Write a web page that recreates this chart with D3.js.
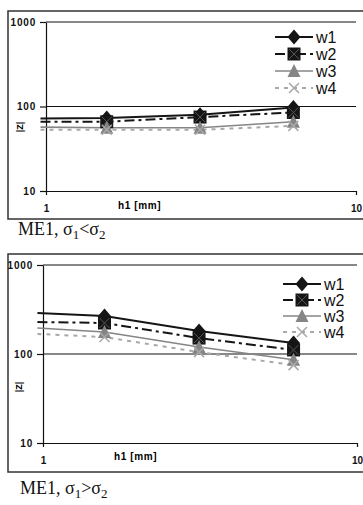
<!DOCTYPE html>
<html>
<head>
<meta charset="utf-8">
<script src="https://cdn.jsdelivr.net/npm/d3@7"></script>
<style>
  body { margin: 0; background: #fff; }
  svg { display: block; }
  .tick text { font-family: Arial, "Liberation Sans", sans-serif; font-weight: bold; font-size: 10px; fill: #111; }
</style>
</head>
<body>
<script>
// impedance |Z| vs h1, two cases, log-log axes

var width = 363;
var height = 505;

// h1 values [mm]; first point has no marker (line runs in from the left edge)
var hValues = [0.96, 1.57, 3.14, 6.28];
var seriesNames = ["w1", "w2", "w3", "w4"];
var yTicks = [10, 100, 1000];
var xTicks = [1, 10];

// case sigma1 < sigma2
var w1Less = [72, 73, 80, 97];
var w2Less = [66, 66, 75, 85];
var w3Less = [57, 56, 56, 66];
var w4Less = [53, 53, 53, 59];

// case sigma1 > sigma2
var w1More = [289, 267, 181, 133];
var w2More = [229, 223, 151, 111];
var w3More = [196, 177, 120, 86];
var w4More = [168, 155, 105, 75];

var styles = [
  {color: "#151515", width: 2, dash: null, marker: "diamond"},
  {color: "#151515", width: 2, dash: "10,4,3,4", marker: "square"},
  {color: "#858585", width: 1.6, dash: null, marker: "triangle"},
  {color: "#a8a8a8", width: 2, dash: "4,5", marker: "x"}
];

var panels = [
  {
    data: [w1Less, w2Less, w3Less, w4Less],
    frame: [8, 11, 362, 208],
    x: [46, 356], y: [191, 22],
    zLabel: [20, 127],
    hLabel: [118, 205],
    legend: [275, 37, 17],
    title: [18, 235], sign: "<"
  },
  {
    data: [w1More, w2More, w3More, w4More],
    frame: [8, 254, 362, 218],
    x: [43, 357], y: [443, 265],
    zLabel: [19, 387],
    hLabel: [114, 456],
    legend: [283, 284, 16],
    title: [20, 494], sign: ">"
  }
];

function markerPath(type) {
  if (type === "diamond") return "M0,-7.5L6.5,0L0,7.5L-6.5,0Z";
  if (type === "square") return "M-6.5,-6.5H6.5V6.5H-6.5Z";
  if (type === "triangle") return "M0,-7L6.5,6L-6.5,6Z";
  return "M-5,-5L5,5M5,-5L-5,5";
}

function drawMarker(g, type, color, cx, cy) {
  var m = g.append("g").attr("transform", "translate(" + cx + "," + cy + ")");
  if (type === "x") {
    m.append("path").attr("d", markerPath(type))
      .attr("stroke", color).attr("stroke-width", 1.5).attr("fill", "none");
  } else {
    m.append("path").attr("d", markerPath(type)).attr("fill", color);
    if (type === "square") {
      m.append("path").attr("d", "M-5,-5L5,5M5,-5L-5,5")
        .attr("stroke", "#555").attr("stroke-width", 1);
    }
  }
}

var svg = d3.select("body")
  .append("svg")
  .attr("width", width)
  .attr("height", height);

panels.forEach(function(p) {
  var g = svg.append("g");

  var xScale = d3.scaleLog().domain([1, 10]).range(p.x);
  var yScale = d3.scaleLog().domain([10, 1000]).range(p.y);

  // outer frame
  g.append("rect")
    .attr("x", p.frame[0]).attr("y", p.frame[1])
    .attr("width", p.frame[2]).attr("height", p.frame[3])
    .attr("fill", "none").attr("stroke", "#333").attr("stroke-width", 1.5);

  // gridlines at 100 and 1000
  g.selectAll(".grid")
    .data([100, 1000])
    .enter()
    .append("line")
    .attr("x1", p.x[0]).attr("x2", p.x[1])
    .attr("y1", function(d) { return yScale(d); })
    .attr("y2", function(d) { return yScale(d); })
    .attr("stroke", "#111").attr("stroke-width", 1);

  var yAxis = d3.axisLeft(yScale)
    .tickValues(yTicks)
    .tickFormat(d3.format("d"))
    .tickSize(6)
    .tickSizeOuter(0)
    .tickPadding(4);

  var xAxis = d3.axisBottom(xScale)
    .tickValues(xTicks)
    .tickFormat(d3.format("d"))
    .tickSize(4)
    .tickSizeOuter(0)
    .tickPadding(10);

  g.append("g")
    .attr("transform", "translate(" + p.x[0] + ",0)")
    .call(yAxis)
    .call(function(a) {
      a.selectAll("line, path").attr("stroke", "#111").attr("stroke-width", 1.2);
      a.selectAll("text").attr("letter-spacing", "0.8px");
    });

  g.append("g")
    .attr("transform", "translate(0," + p.y[0] + ")")
    .call(xAxis)
    .call(function(a) {
      a.selectAll("line, path").attr("stroke", "#111").attr("stroke-width", 1.2);
    });

  // axis titles
  g.append("text")
    .attr("transform", "translate(" + p.zLabel[0] + "," + p.zLabel[1] + ") rotate(-90)")
    .attr("text-anchor", "middle")
    .attr("dy", "0.35em")
    .style("font", "bold 9px Arial, 'Liberation Sans', sans-serif")
    .text("|Z|");

  g.append("text")
    .attr("x", p.hLabel[0]).attr("y", p.hLabel[1])
    .attr("dy", "0.35em")
    .attr("letter-spacing", "0.6px")
    .style("font", "bold 10px Arial, 'Liberation Sans', sans-serif")
    .text("h1 [mm]");

  // series lines
  var line = d3.line()
    .x(function(d, i) { return xScale(hValues[i]); })
    .y(function(d) { return yScale(d); });

  p.data.forEach(function(vals, k) {
    var s = styles[k];
    g.append("path")
      .attr("d", line(vals))
      .attr("fill", "none")
      .attr("stroke", s.color)
      .attr("stroke-width", s.width)
      .attr("stroke-dasharray", s.dash);
  });

  // markers (skip the first, unmarked point)
  p.data.forEach(function(vals, k) {
    var s = styles[k];
    vals.forEach(function(v, i) {
      if (i === 0) return;
      drawMarker(g, s.marker, s.color, xScale(hValues[i]), yScale(v));
    });
  });

  // legend
  seriesNames.forEach(function(name, k) {
    var s = styles[k];
    var ly = p.legend[1] + k * p.legend[2];
    var lx = p.legend[0];
    g.append("line")
      .attr("x1", lx).attr("x2", lx + 38)
      .attr("y1", ly).attr("y2", ly)
      .attr("stroke", s.color)
      .attr("stroke-width", s.width)
      .attr("stroke-dasharray", s.dash);
    drawMarker(g, s.marker, s.color, lx + 19, ly);
    g.append("text")
      .attr("x", lx + 41).attr("y", ly)
      .attr("dy", "0.38em")
      .style("font", "16px Arial, 'Liberation Sans', sans-serif")
      .attr("fill", "#111")
      .text(name);
  });

  // caption under the chart
  var t = g.append("text")
    .attr("x", p.title[0]).attr("y", p.title[1])
    .style("font", "18px 'Liberation Serif', 'Times New Roman', serif")
    .attr("fill", "#111");
  t.append("tspan").text("ME1, σ");
  t.append("tspan").attr("dy", 4).style("font-size", "13px").text("1");
  t.append("tspan").attr("dy", -4).text(p.sign + "σ");
  t.append("tspan").attr("dy", 4).style("font-size", "13px").text("2");
});
</script>
</body>
</html>
